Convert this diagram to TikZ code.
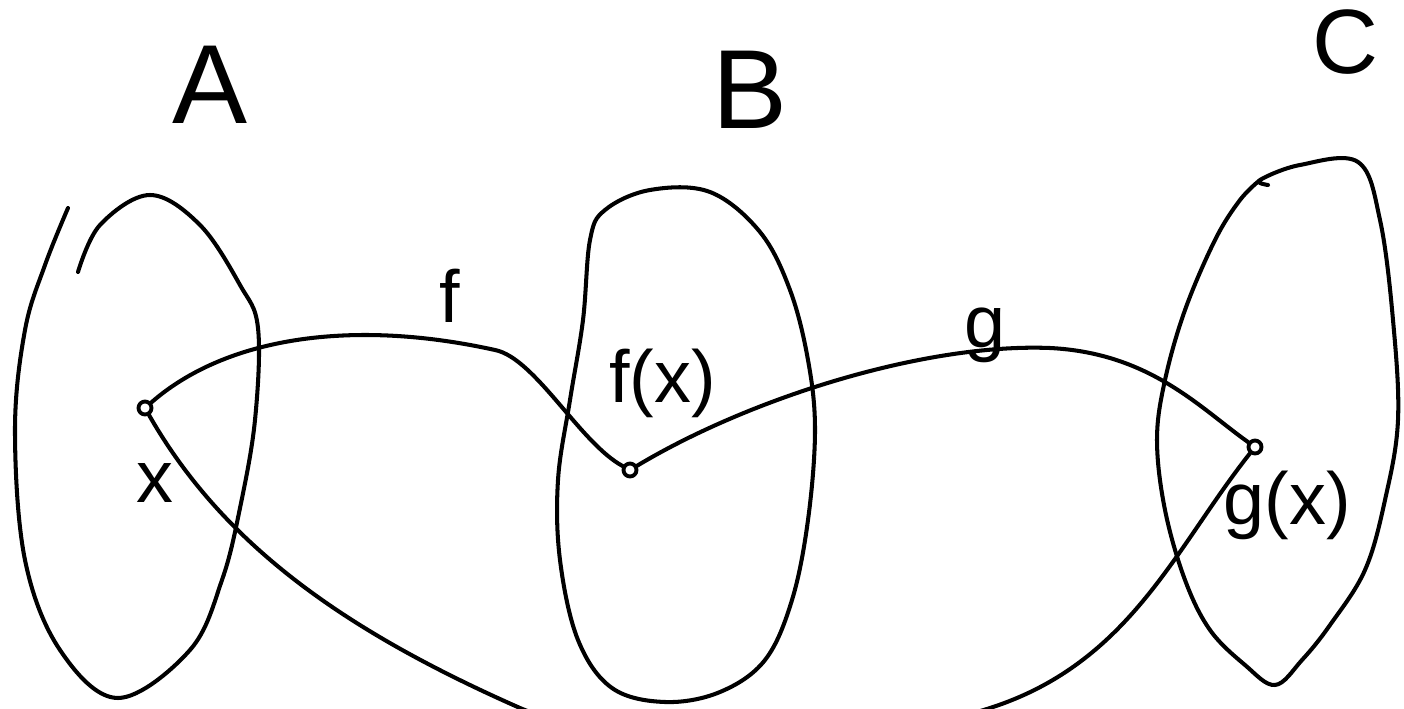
\documentclass[tikz,border=0pt]{standalone}
\usepackage{fontspec}
\setmainfont{Liberation Sans}
\usepackage{tikz}
\usetikzlibrary{positioning,calc}

\begin{document}
\begin{tikzpicture}[line width=2.3pt,line cap=round,line join=round,
    elem/.style={circle,draw,line width=2.2pt,inner sep=0pt,minimum size=0.26cm},
    setname/.style={font=\fontsize{64}{64}\selectfont},
    lbl/.style={font=\fontsize{42}{42}\selectfont}]
        \useasboundingbox (0,0) rectangle (28.08,14.16);
        \draw plot[smooth,tension=0.6] coordinates {(1.56,8.72) (2.0,9.66) (3.0,10.26) (4.0,9.66) (4.8,8.46) (5.16,7.6)
          (5.1,5.76) (4.8,4.0) (4.44,2.56) (3.8,1.16) (2.36,0.2) (1.2,1.16) (0.5,2.96) (0.3,5.56) (0.5,7.56) (0.9,8.86) (1.36,10.0)};
        \draw plot[smooth cycle,tension=0.6] coordinates {(12.1,9.96) (13.0,10.36) (14.2,10.32) (15.2,9.52) (15.8,8.36) (16.16,6.96)
          (16.3,5.56) (16.16,3.76) (15.84,2.16) (15.3,0.96) (14.4,0.32) (13.3,0.12) (12.24,0.4) (11.56,1.36) (11.2,2.96)
          (11.16,4.56) (11.4,6.16) (11.66,7.76) (11.8,9.36)};
        \draw plot[smooth,tension=0.6] coordinates {(25.36,10.46) (25.2,10.56) (26.0,10.86) (27.16,10.92) (27.6,9.76) (27.86,7.76)
          (27.96,5.76) (27.7,4.16) (27.3,2.76) (26.6,1.66) (26.04,0.96) (25.5,0.46) (24.9,0.86) (24.2,1.56) (23.7,2.56)
          (23.3,3.96) (23.14,5.36) (23.3,6.56) (23.7,7.96) (24.3,9.36) (24.8,10.16) (25.2,10.56)};
        \node[setname] (seta) at (4.2,12.46) {A};
        \node[setname] (setb) at (15.0,12.36) {B};
        \node[font=\fontsize{52}{52}\selectfont] (setc) at (26.9,13.32) {C};
        \node[elem] (x) at (2.9,6.0) {};
        \node[elem] (fx) at (12.6,4.76) {};
        \node[elem] (gx) at (25.1,5.22) {};
        \node[lbl] (xlbl) at (3.1,4.5) {x};
        \node[lbl] (fxlbl) at (13.25,6.5) {f(x)};
        \node[lbl] (gxlbl) at (25.75,4.05) {g(x)};
        \node[lbl] (flbl) at (9.0,8.25) {f};
        \node[lbl] (glbl) at (19.7,7.45) {g};
        \draw (x) .. controls (4.5,7.4) and (7,7.8) .. (9.9,7.16) .. controls (10.7,7.0) and (11.6,5.3) .. (fx);
        \draw (fx) .. controls (15,6.2) and (18.5,7.3) .. (21,7.2) .. controls (23,7.1) and (24,6.0) .. (gx);
        \draw (x) .. controls (4.5,3.2) and (7,1.5) .. (10.4,0) .. controls (13,-1.1) and (17,-0.9) .. (19.8,0)
          .. controls (22.6,0.9) and (23.5,3.2) .. (gx);
      \end{tikzpicture}
\end{document}
